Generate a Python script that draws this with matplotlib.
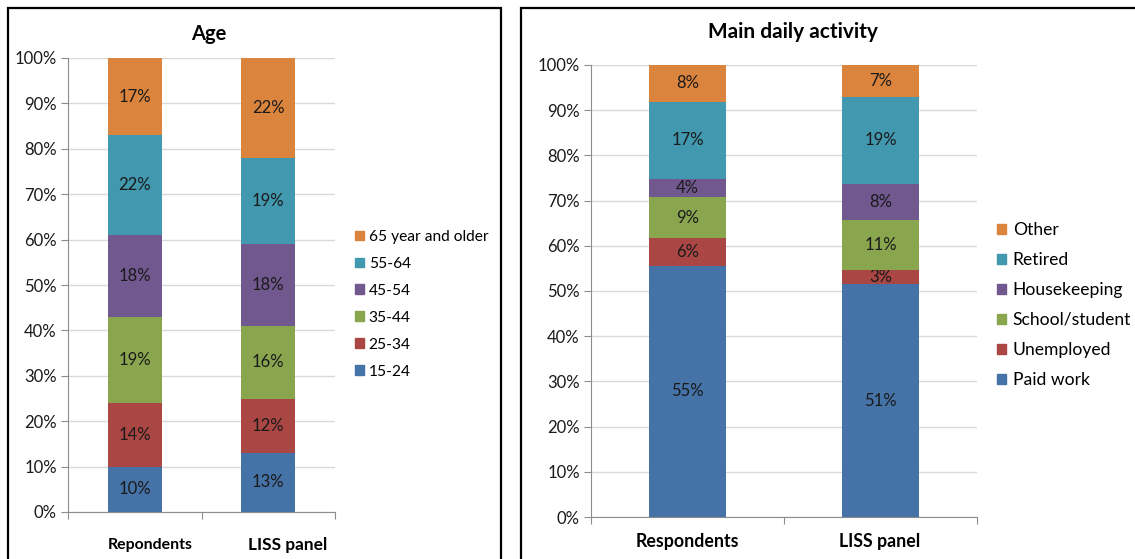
import matplotlib
matplotlib.use("Agg")
import matplotlib.pyplot as plt
from matplotlib.patches import Patch, Rectangle
from matplotlib.ticker import PercentFormatter

plt.rcParams["font.family"] = ["Lato", "DejaVu Sans"]

W, H = 1135, 559

GROUPS_AGE = ["Repondents", "LISS panel"]
AGE_BANDS = ["15-24", "25-34", "35-44", "45-54", "55-64", "65 year and older"]
AGE_RESP = [10, 14, 19, 18, 22, 17]
AGE_LISS = [13, 12, 16, 18, 19, 22]

GROUPS_ACT = ["Respondents", "LISS panel"]
ACTIVITIES = ["Paid work", "Unemployed", "School/student", "Housekeeping", "Retired", "Other"]
ACT_RESP = [55, 6, 9, 4, 17, 8]
ACT_LISS = [51, 3, 11, 8, 19, 7]

COLORS = ["#4572A7", "#AA4643", "#89A54E", "#71588F", "#4198AF", "#DB843D"]
GRID = "#D9D9D9"
AXIS = "#8C8C8C"
TEXT = "#1a1a1a"


def px_axes(fig, left, right, top, bottom):
    return fig.add_axes([left / W, 1 - bottom / H, (right - left) / W, (bottom - top) / H])


def stacked(ax, series, names, width):
    # 100% stacked: each column is scaled so its parts add up to 100
    totals = [sum(col) for col in zip(*series)]
    bottoms = [0.0] * len(totals)
    for vals, name, color in zip(series, names, COLORS):
        shares = [100 * v / t for v, t in zip(vals, totals)]
        bars = ax.bar(range(len(vals)), shares, width, bottom=bottoms, color=color,
                      edgecolor="none", label=name, zorder=3)
        ax.bar_label(bars, labels=[f"{v}%" for v in vals], label_type="center",
                     fontsize=12, color=TEXT)
        bottoms = [b + s for b, s in zip(bottoms, shares)]


def style(ax):
    ax.set_xlim(-0.5, 1.5)
    ax.set_ylim(0, 100)
    ax.set_yticks(range(0, 101, 10))
    ax.yaxis.set_major_formatter(PercentFormatter(decimals=0))
    ax.set_xticks([-0.5, 0.5, 1.5])
    ax.set_xticklabels([])
    ax.grid(axis="y", color=GRID, lw=1, zorder=0)
    for side in ("top", "right"):
        ax.spines[side].set_visible(False)
    for side in ("left", "bottom"):
        ax.spines[side].set_color(AXIS)
    ax.tick_params(axis="y", length=5, color=AXIS, labelsize=12, pad=3, labelcolor=TEXT)
    ax.tick_params(axis="x", length=5, color=AXIS)


fig = plt.figure(figsize=(W / 100, H / 100), dpi=100)

# Age panel
ax1 = px_axes(fig, 68, 335, 58, 512)
stacked(ax1, [list(p) for p in zip(AGE_RESP, AGE_LISS)], AGE_BANDS, 0.405)
style(ax1)
fig.text(209 / W, 1 - 34 / H, "Age", ha="center", va="center", fontsize=14.5, fontweight="bold")
for x, name, size in zip([150, 288], GROUPS_AGE, [11.4, 12.4]):
    fig.text(x / W, 1 - 545 / H, name, ha="center", va="center", fontsize=size, fontweight="bold")
handles = [Patch(color=c, label=n) for c, n in zip(COLORS, AGE_BANDS)][::-1]
ax1.legend(handles=handles, loc="upper left", bbox_to_anchor=(355 / W, 1 - 230 / H),
           bbox_transform=fig.transFigure, frameon=False, fontsize=11.2,
           handlelength=0.58, handleheight=0.58, handletextpad=0.3,
           labelspacing=0.83, borderaxespad=0, borderpad=0)

# Main daily activity panel
ax2 = px_axes(fig, 591, 977, 65, 517)
stacked(ax2, [list(p) for p in zip(ACT_RESP, ACT_LISS)], ACTIVITIES, 0.4)
style(ax2)
fig.text(793 / W, 1 - 32 / H, "Main daily activity", ha="center", va="center",
         fontsize=15, fontweight="bold")
for x, name in zip([687, 880], GROUPS_ACT):
    fig.text(x / W, 1 - 542 / H, name, ha="center", va="center", fontsize=12.8, fontweight="bold")
handles = [Patch(color=c, label=n) for c, n in zip(COLORS, ACTIVITIES)][::-1]
ax2.legend(handles=handles, loc="upper left", bbox_to_anchor=(997 / W, 1 - 222 / H),
           bbox_transform=fig.transFigure, frameon=False, fontsize=12.6,
           handlelength=0.5, handleheight=0.5, handletextpad=0.4,
           labelspacing=0.8, borderaxespad=0, borderpad=0)

# panel frames
fig.add_artist(Rectangle((8 / W, -0.05), 493 / W, 1.05 - 7.5 / H, transform=fig.transFigure,
                         fill=False, lw=1.6, ec="black"))
fig.add_artist(Rectangle((520.5 / W, -0.05), 0.6, 1.05 - 7.5 / H, transform=fig.transFigure,
                         fill=False, lw=1.6, ec="black"))

fig.savefig("out.png", dpi=100)
